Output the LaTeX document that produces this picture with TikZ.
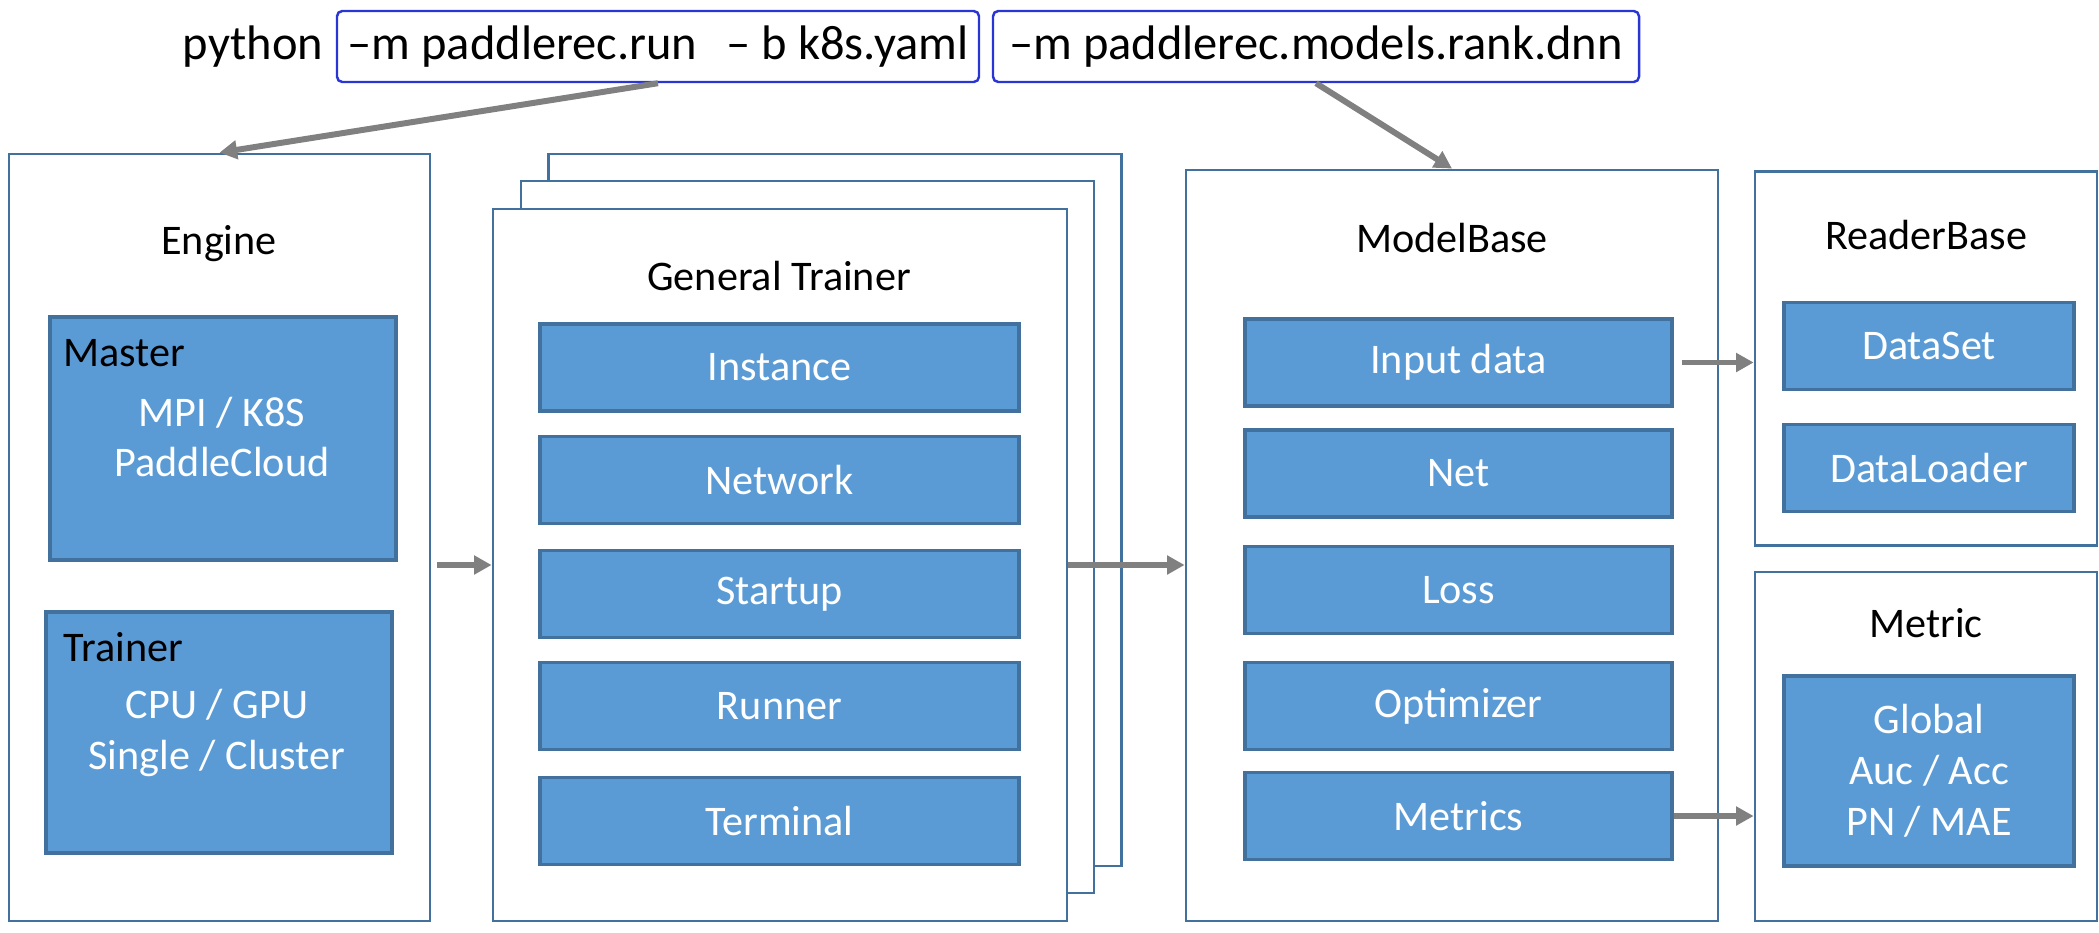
\documentclass[tikz,border=0pt]{standalone}
\usepackage{fontspec}
\setmainfont{Carlito}
\usetikzlibrary{arrows.meta}

\definecolor{boxblue}{HTML}{5B9BD5}
\definecolor{edgeblue}{HTML}{41719C}
\definecolor{cmdblue}{HTML}{2A35D6}
\definecolor{flowgray}{HTML}{808080}

\begin{document}
\begin{tikzpicture}[>={Triangle[length=5pt,width=5.2pt]},
    outer/.style={draw=edgeblue,line width=0.8pt,fill=white,inner sep=0pt},
    block/.style={draw=edgeblue,line width=0.9pt,fill=boxblue,text=white,
      inner sep=0pt,font=\fontsize{12}{14.5}\selectfont,align=center},
    row/.style={block,minimum height=0.87cm},
    cmd/.style={draw=cmdblue,line width=0.7pt,rounded corners=1.5pt,
      minimum height=0.71cm,inner sep=0pt,font=\fontsize{13.8}{16}\selectfont},
    title/.style={inner sep=0pt,font=\fontsize{12}{14.5}\selectfont,align=center},
    flow/.style={->,draw=flowgray,line width=1.7pt}]

  \useasboundingbox (0,0) rectangle (20.99,-9.32);

  % command line
  \node[title,font=\fontsize{13.8}{16}\selectfont] (python) at (2.53,-0.47) {python};
  \node[cmd,minimum width=6.42cm] (cmdA) at (6.58,-0.465)
    {--m paddlerec.run\hspace{0.6em}-- b k8s.yaml};
  \node[cmd,minimum width=6.46cm] (cmdB) at (13.16,-0.465)
    {--m paddlerec.models.rank.dnn};

  % engine
  \node[outer,minimum width=4.21cm,minimum height=7.67cm] (engine) at (2.195,-5.375) {};
  \node[title] (enginelbl) at (2.19,-2.44) {Engine};
  \node[block,minimum width=3.46cm,minimum height=2.43cm] (master) at (2.23,-4.385) {};
  \node[title,anchor=west] (masterlbl) at (0.63,-3.53) {Master};
  \node[title,text=white] (mastertxt) at (2.22,-4.37) {MPI / K8S\\PaddleCloud};
  \node[block,minimum width=3.46cm,minimum height=2.41cm] (trainer) at (2.19,-7.325) {};
  \node[title,anchor=west] (trainerlbl) at (0.63,-6.47) {Trainer};
  \node[title,text=white] (trainertxt) at (2.17,-7.325) {CPU / GPU\\Single / Cluster};

  % general trainer (stacked)
  \node[outer,minimum width=5.73cm,minimum height=7.12cm] (gtC) at (8.35,-5.10) {};
  \node[outer,minimum width=5.73cm,minimum height=7.12cm] (gtB) at (8.075,-5.37) {};
  \node[outer,minimum width=5.74cm,minimum height=7.12cm] (gtA) at (7.80,-5.65) {};
  \node[title] (gtlbl) at (7.79,-2.76) {General Trainer};
  \node[row,minimum width=4.79cm] (instance) at (7.795,-3.675) {Instance};
  \node[row,minimum width=4.79cm] (network)  at (7.795,-4.80)  {Network};
  \node[row,minimum width=4.79cm] (startup)  at (7.795,-5.94)  {Startup};
  \node[row,minimum width=4.79cm] (runner)   at (7.795,-7.06)  {Runner};
  \node[row,minimum width=4.79cm] (terminal) at (7.795,-8.21)  {Terminal};

  % model base
  \node[outer,minimum width=5.32cm,minimum height=7.51cm] (modelbase) at (14.52,-5.455) {};
  \node[title] (modellbl) at (14.52,-2.38) {ModelBase};
  \node[row,minimum width=4.27cm] (input)     at (14.585,-3.625) {Input data};
  \node[row,minimum width=4.27cm] (net)       at (14.585,-4.735) {Net};
  \node[row,minimum width=4.27cm] (loss)      at (14.585,-5.90)  {Loss};
  \node[row,minimum width=4.27cm] (optimizer) at (14.585,-7.06)  {Optimizer};
  \node[row,minimum width=4.27cm] (metrics)   at (14.585,-8.16)  {Metrics};

  % reader base
  \node[outer,minimum width=3.42cm,minimum height=3.74cm] (reader) at (19.26,-3.585) {};
  \node[title] (readerlbl) at (19.26,-2.35) {ReaderBase};
  \node[row,minimum width=2.9cm] (dataset)    at (19.29,-3.46) {DataSet};
  \node[row,minimum width=2.9cm] (dataloader) at (19.29,-4.68) {DataLoader};

  % metric
  \node[outer,minimum width=3.42cm,minimum height=3.49cm] (metric) at (19.26,-7.465) {};
  \node[title] (metriclbl) at (19.26,-6.23) {Metric};
  \node[block,minimum width=2.9cm,minimum height=1.9cm] (metricbox) at (19.29,-7.71)
    {Global\\Auc / Acc\\PN / MAE};

  \path (cmdA.south) edge[flow] (engine.north)
        (cmdB.south) edge[flow] (modelbase.north)
        (engine.east |- gtA.west) edge[flow,shorten <=0.06cm] (gtA.west)
        (gtA.east) edge[flow] (modelbase.west |- gtA.east)
        (input.east) edge[flow,shorten <=0.08cm] (reader.west |- input.east)
        (metrics.east) edge[flow] (metric.west |- metrics.east);
\end{tikzpicture}
\end{document}
